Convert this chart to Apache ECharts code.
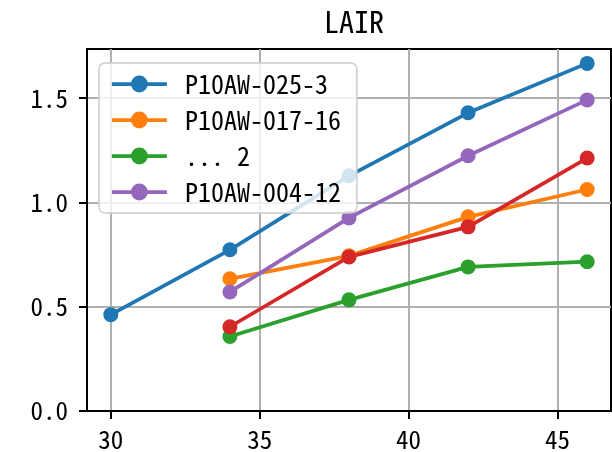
<!DOCTYPE html>
<html>
<head>
<meta charset="utf-8">
<script src="https://cdn.jsdelivr.net/npm/echarts@6/dist/echarts.min.js"></script>
<style>html,body{margin:0;padding:0;background:#fff}#c{width:612px;height:452px}</style>
</head>
<body>
<div id="c"></div>
<script>
const titleText = 'LAIR';
const xTicks = [30, 35, 40, 45];
const yTicks = [0, 0.5, 1.0, 1.5];
const seriesNames = ['P10AW-025-3', 'P10AW-017-16', '... 2', 'P10AW-004-12', ''];
const legendNames = ['P10AW-025-3', 'P10AW-017-16', '... 2', 'P10AW-004-12'];
const colors = ['#1f77b4', '#ff7f0e', '#2ca02c', '#9467bd', '#d62728'];
const xBlue = [30, 34, 38, 42, 46];
const yBlue = [0.462, 0.773, 1.128, 1.430, 1.667];
const xOrange = [34, 38, 42, 46];
const yOrange = [0.634, 0.744, 0.931, 1.062];
const xGreen = [34, 38, 42, 46];
const yGreen = [0.357, 0.533, 0.691, 0.716];
const xPurple = [34, 38, 42, 46];
const yPurple = [0.571, 0.926, 1.224, 1.492];
const xRed = [34, 38, 42, 46];
const yRed = [0.404, 0.739, 0.883, 1.213];

const xs = [xBlue, xOrange, xGreen, xPurple, xRed];
const ys = [yBlue, yOrange, yGreen, yPurple, yRed];

const FONT = '"Noto Sans Mono CJK JP", "Noto Sans CJK JP", "Noto Sans", sans-serif';
const chart = echarts.init(document.getElementById('c'), null, {renderer: 'canvas'});

const series = xs.map((xa, i) => ({
  type: 'line',
  name: seriesNames[i] || 'unnamed',
  data: xa.map((x, j) => [x, ys[i][j]]),
  symbol: 'circle',
  symbolSize: 15,
  showSymbol: true,
  animation: false,
  lineStyle: {width: 3.75, color: colors[i]},
  itemStyle: {color: colors[i]},
  emphasis: {disabled: true}
}));

chart.setOption({
  animation: false,
  textStyle: {fontFamily: FONT},
  title: {
    text: titleText,
    left: 349,
    textAlign: 'center',
    top: 2,
    textStyle: {fontFamily: FONT, fontSize: 30, fontWeight: 'normal', color: '#000'}
  },
  grid: {
    left: 87, right: 1, top: 49, bottom: 40,
    show: true, borderColor: '#000', borderWidth: 2, backgroundColor: 'transparent'
  },
  legend: {
    data: legendNames,
    orient: 'vertical',
    left: 99,
    top: 63,
    padding: [8, 16, 8, 11],
    itemWidth: 55,
    itemHeight: 21,
    itemGap: 10,
    backgroundColor: 'rgba(255,255,255,0.8)',
    borderColor: '#cccccc',
    borderWidth: 1.5,
    borderRadius: 6,
    lineStyle: {width: 3.75},
    textStyle: {fontFamily: FONT, fontSize: 26, lineHeight: 26, color: '#000', padding: [0, 0, 0, 13]},
    selectedMode: false
  },
  xAxis: {
    type: 'value',
    min: 29.2,
    max: 46.8,
    axisLine: {show: true, lineStyle: {color: '#000', width: 2}},
    axisTick: {show: true, inside: false, length: 8, lineStyle: {color: '#000', width: 2}, customValues: xTicks},
    axisLabel: {fontFamily: FONT, fontSize: 25, color: '#000', margin: 16, customValues: xTicks,
      formatter: v => String(v)},
    splitLine: {show: true, lineStyle: {color: '#b0b0b0', width: 2}}
  },
  yAxis: {
    type: 'value',
    min: 0,
    max: 1.736,
    axisLine: {show: true, lineStyle: {color: '#000', width: 2}},
    axisTick: {show: true, inside: false, length: 8, lineStyle: {color: '#000', width: 2}, customValues: yTicks},
    axisLabel: {fontFamily: FONT, fontSize: 25, color: '#000', margin: 19, customValues: yTicks,
      formatter: v => v.toFixed(1)},
    splitLine: {show: true, lineStyle: {color: '#b0b0b0', width: 2}}
  },
  series: series
});
</script>
</body>
</html>
